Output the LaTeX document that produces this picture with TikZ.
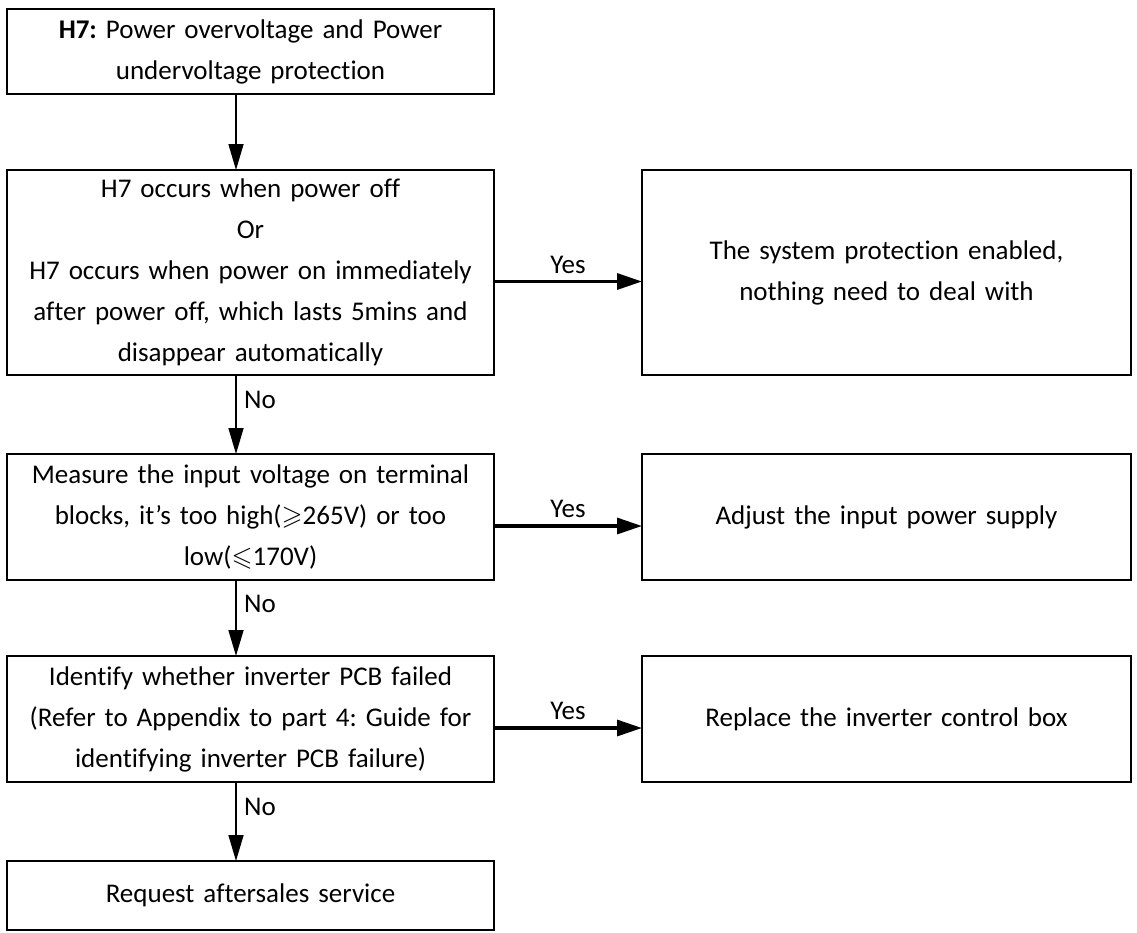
\documentclass[tikz,border=0pt]{standalone}
\usepackage{amssymb}
\usepackage{fontspec}
\setmainfont{Carlito}[WordSpace={0.55,0,0},Ligatures=NoCommon]
\frenchspacing
\usetikzlibrary{arrows.meta,positioning}
\tikzset{b/.style={draw,line width=2pt,align=center,text width=470pt,minimum width=487pt,inner sep=0pt,outer sep=0pt,font=\fontsize{27}{41}\selectfont},
 bt/.style={b,line width=1.2pt},
 r/.style={b,minimum width=489pt},
 ar/.style={line width=1.6pt,-{Triangle[length=26pt,width=15pt]}},
 yar/.style={line width=3.2pt,-{Triangle[length=25pt,width=16pt]}},
 lb/.style={font=\fontsize{27}{41}\selectfont}}
\begin{document}
\begin{tikzpicture}[x=1pt,y=-1pt]
\useasboundingbox (0,0) rectangle (1137,932);
\coordinate (col) at (236,0);
\node[bt,minimum height=85pt](top) at (250.5,51.5){\textbf{H7:} Power overvoltage and Power\\undervoltage protection};
\node[b,minimum height=205pt,below=76pt of top](cond){H7 occurs when power off\\Or\\H7 occurs when power on immediately\\after power off, which lasts 5mins and\\disappear automatically};
\node[r,minimum height=205pt,right=148pt of cond](sys){The system protection enabled,\\nothing need to deal with};
\node[b,minimum height=126pt,below=79pt of cond](meas){Measure the input voltage on terminal\\blocks, it’s too high($\geqslant$265V) or too\\low($\leqslant$170V)};
\node[r,minimum height=126pt,right=148pt of meas](adj){Adjust the input power supply};
\node[b,minimum height=126pt,below=76pt of meas](pcb){Identify whether inverter PCB failed\\(Refer to Appendix to part 4: Guide for\\identifying inverter PCB failure)};
\node[r,minimum height=126pt,right=148pt of pcb](repl){Replace the inverter control box};
\node[bt,minimum height=69pt,below=79pt of pcb](req){Request aftersales service};
% main column
\draw[ar](top.south -| col)--(cond.north -| col);
\draw[ar](cond.south -| col)--node[lb,right,pos=.32,xshift=4pt]{No}(meas.north -| col);
\draw[ar](meas.south -| col)--node[lb,right,pos=.32,xshift=4pt]{No}(pcb.north -| col);
\draw[ar](pcb.south -| col)--node[lb,right,pos=.32,xshift=4pt]{No}(req.north -| col);
% yes branches
\draw[yar]([yshift=-9pt]cond.east)--node[lb,above,yshift=3pt]{Yes}([yshift=-9pt]cond.east -| sys.west);
\draw[yar]([yshift=-9pt]meas.east)--node[lb,above,yshift=3pt]{Yes}([yshift=-9pt]meas.east -| adj.west);
\draw[yar]([yshift=-9pt]pcb.east)--node[lb,above,yshift=3pt]{Yes}([yshift=-9pt]pcb.east -| repl.west);
\end{tikzpicture}
\end{document}
